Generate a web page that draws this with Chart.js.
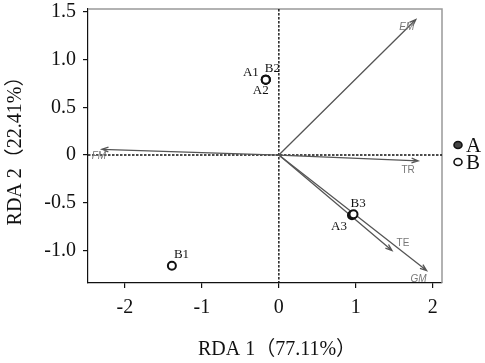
<!DOCTYPE html>
<html>
<head>
<meta charset="utf-8">
<script src="https://cdn.jsdelivr.net/npm/chart.js@4"></script>
<style>
  html, body { margin: 0; padding: 0; background: #fff; }
  #wrap { width: 485px; height: 363px; }
</style>
</head>
<body>
<div id="wrap"><canvas id="rdaChart"></canvas></div>
<script>
const sampleNamesA = ["A1", "A2", "A3"];
const sampleXA = [-0.17, -0.17, 0.95];
const sampleYA = [0.79, 0.79, -0.63];
const sampleNamesB = ["B1", "B2", "B3"];
const sampleXB = [-1.39, -0.17, 0.97];
const sampleYB = [-1.16, 0.79, -0.62];
const envNames = ["EM", "FM", "TR", "TE", "GM"];
const envX = [1.78, -2.30, 1.81, 1.47, 1.92];
const envY = [1.42, 0.06, -0.06, -1.00, -1.21];
const xTicks = [-2, -1, 0, 1, 2];
const yTicks = [-1.0, -0.5, 0, 0.5, 1.0, 1.5];

const serif = "'Liberation Serif', 'Noto Sans CJK SC', serif";

// label placement around each point (dx, dy, align)
const sampleLabelPos = {
    A1: [-7, -7, "right"], B2: [-1, -11, "left"], A2: [-5, 11, "center"],
    B3: [-3, -11, "left"], A3: [-5, 11, "right"], B1: [2, -11, "left"]
};
const envLabelPos = {
    EM: [-9, 8, true], FM: [-3, 7, true], TR: [-10, 9, false],
    TE: [11, -7, false], GM: [-8, 9, true]
};

const rdaPlugin = {
    id: "rda",
    beforeDatasetsDraw(chart) {
        const { ctx, chartArea: a, scales: { x, y } } = chart;
        const x0 = x.getPixelForValue(0), y0 = y.getPixelForValue(0);
        ctx.save();
        // frame top/right
        ctx.strokeStyle = "#999";
        ctx.lineWidth = 1.5;
        ctx.beginPath();
        ctx.moveTo(a.left, a.top); ctx.lineTo(a.right, a.top); ctx.lineTo(a.right, a.bottom);
        ctx.stroke();
        // dashed zero lines
        ctx.strokeStyle = "#111";
        ctx.lineWidth = 1.4;
        ctx.setLineDash([2.5, 1.5]);
        ctx.beginPath();
        ctx.moveTo(a.left, y0); ctx.lineTo(a.right, y0);
        ctx.moveTo(x0, a.top); ctx.lineTo(x0, a.bottom);
        ctx.stroke();
        ctx.setLineDash([]);
        // environment arrows
        ctx.strokeStyle = "#555";
        ctx.lineWidth = 1.3;
        envNames.forEach((name, i) => {
            const tx = x.getPixelForValue(envX[i]), ty = y.getPixelForValue(envY[i]);
            const ang = Math.atan2(ty - y0, tx - x0);
            ctx.beginPath();
            ctx.moveTo(x0, y0); ctx.lineTo(tx, ty);
            ctx.moveTo(tx - 7 * Math.cos(ang - 0.35), ty - 7 * Math.sin(ang - 0.35));
            ctx.lineTo(tx, ty);
            ctx.lineTo(tx - 7 * Math.cos(ang + 0.35), ty - 7 * Math.sin(ang + 0.35));
            ctx.stroke();
            const p = envLabelPos[name];
            ctx.fillStyle = "#777";
            ctx.font = (p[2] ? "italic " : "") + "10px 'Liberation Sans', sans-serif";
            ctx.textAlign = "center";
            ctx.textBaseline = "middle";
            ctx.fillText(name, tx + p[0], ty + p[1]);
        });
        ctx.restore();
    },
    afterDatasetsDraw(chart) {
        const { ctx, scales: { x, y } } = chart;
        ctx.save();
        ctx.fillStyle = "#111";
        ctx.font = "13px " + serif;
        ctx.textBaseline = "middle";
        const put = (names, xs, ys) => names.forEach((n, i) => {
            const p = sampleLabelPos[n];
            ctx.textAlign = p[2];
            ctx.fillText(n, x.getPixelForValue(xs[i]) + p[0], y.getPixelForValue(ys[i]) + p[1]);
        });
        put(sampleNamesA, sampleXA, sampleYA);
        put(sampleNamesB, sampleXB, sampleYB);
        // legend
        const lx = 458;
        [["A", "#444", 145], ["B", "#fff", 162]].forEach(([t, fill, ly]) => {
            ctx.beginPath();
            ctx.ellipse(lx, ly, 4, 3.5, 0, 0, Math.PI * 2);
            ctx.fillStyle = fill;
            ctx.fill();
            ctx.strokeStyle = "#111";
            ctx.lineWidth = 1.6;
            ctx.stroke();
            ctx.fillStyle = "#111";
            ctx.font = "21px " + serif;
            ctx.textAlign = "left";
            ctx.fillText(t, lx + 8, ly + 1);
        });
        // x axis title
        ctx.font = "20px " + serif;
        ctx.textAlign = "center";
        ctx.fillText("RDA 1（77.11%）", 277, 350);
        ctx.restore();
    }
};

document.addEventListener("DOMContentLoaded", () => {
    const ctx = document.getElementById("rdaChart").getContext("2d");
    new Chart(ctx, {
        type: "scatter",
        data: {
            datasets: [
                {
                    label: "A",
                    data: sampleXA.map((v, i) => ({ x: v, y: sampleYA[i] })),
                    backgroundColor: "#333", borderColor: "#111",
                    borderWidth: 2, pointRadius: 4, order: 2
                },
                {
                    label: "B",
                    data: sampleXB.map((v, i) => ({ x: v, y: sampleYB[i] })),
                    backgroundColor: "#fff", borderColor: "#111",
                    borderWidth: 2, pointRadius: 4, order: 1
                }
            ]
        },
        options: {
            responsive: true,
            maintainAspectRatio: false,
            animation: false,
            layout: { padding: { left: 0, right: 43, top: 9, bottom: 0 } },
            plugins: { legend: { display: false }, tooltip: { enabled: false } },
            scales: {
                x: {
                    min: -2.48, max: 2.12,
                    afterBuildTicks: s => { s.ticks = xTicks.map(v => ({ value: v })); },
                    afterFit: s => { s.height = 80; s.paddingLeft = 0; s.paddingRight = 0; },
                    grid: { drawOnChartArea: false, drawTicks: true, tickLength: 5, color: "#111", lineWidth: 1.2 },
                    border: { color: "#111", width: 1.2 },
                    ticks: { color: "#111", font: { family: serif, size: 20 }, padding: 8, callback: v => String(v) },
                    title: { display: false }
                },
                y: {
                    min: -1.34, max: 1.53,
                    afterBuildTicks: s => { s.ticks = yTicks.map(v => ({ value: v })); },
                    afterFit: s => { s.width = 88; s.paddingTop = 0; s.paddingBottom = 0; },
                    grid: { drawOnChartArea: false, drawTicks: true, tickLength: 5, color: "#111", lineWidth: 1.2 },
                    border: { color: "#111", width: 1.2 },
                    ticks: { color: "#111", font: { family: serif, size: 20 }, padding: 7, callback: v => v === 0 ? "0" : v.toFixed(1) },
                    title: { display: true, text: "RDA 2（22.41%）", color: "#111", font: { family: serif, size: 20 }, padding: { bottom: 2 } }
                }
            }
        },
        plugins: [rdaPlugin]
    });
});
</script>
</body>
</html>
